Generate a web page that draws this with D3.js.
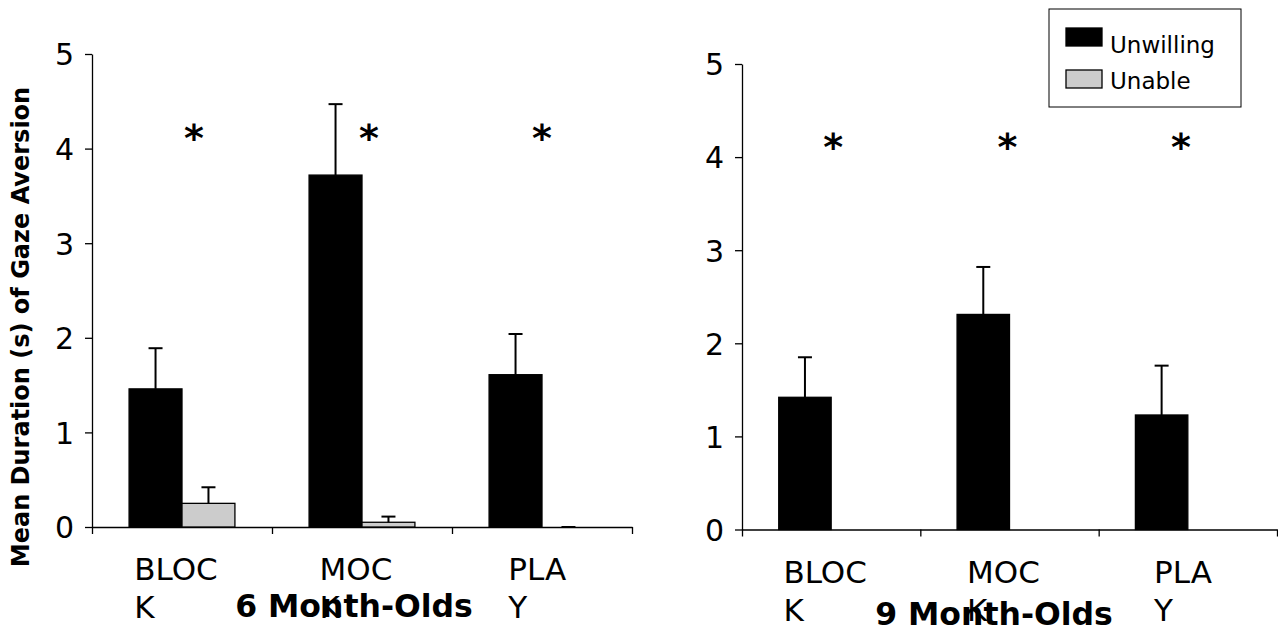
<!DOCTYPE html>
<html>
<head>
<meta charset="utf-8">
<script src="https://cdn.jsdelivr.net/npm/d3@7"></script>
<style>
  body { margin: 0; background: #fff; }
  text { font-family: "DejaVu Sans", Verdana, sans-serif; fill: #000; }
</style>
</head>
<body>
<div id="chart"></div>
<script>
// data
var categories = ["BLOCK", "MOCK", "PLAY"];
var labelLines = [["BLOC", "K"], ["MOC", "K"], ["PLA", "Y"]];
var series = ["Unwilling", "Unable"];
var yTicks = [0, 1, 2, 3, 4, 5];
var panelTitles = ["6 Month-Olds", "9 Month-Olds"];
var sigMarks = ["*", "*", "*"];
var sigLevel = 4.15;

var sixUnwilling = [1.46, 3.72, 1.61];
var sixUnwillingErr = [0.43, 0.75, 0.43];
var sixUnable = [0.25, 0.05, 0];
var sixUnableErr = [0.17, 0.06, 0];

var nineUnwilling = [1.42, 2.31, 1.23];
var nineUnwillingErr = [0.43, 0.51, 0.53];
var nineUnable = [0, 0, 0];
var nineUnableErr = [null, null, null];

var colors = {Unwilling: "#000000", Unable: "#cccccc"};

var width = 1278, height = 635;

var svg = d3.select("#chart").append("svg")
    .attr("width", width)
    .attr("height", height);

// panel frames (layout only)
var panels = [
  {left: 92, right: 632, bottom: 527, top: 54, titleX: 354, titleY: 617, starNudge: [12, 7, 0],
   values: [sixUnwilling, sixUnable], errs: [sixUnwillingErr, sixUnableErr]},
  {left: 742, right: 1277, bottom: 529.5, top: 64, titleX: 994, titleY: 625, starNudge: [2, -2, -7],
   values: [nineUnwilling, nineUnable], errs: [nineUnwillingErr, nineUnableErr]}
];

panels.forEach(function(p, pi) {
  var g = svg.append("g");

  var y = d3.scaleLinear().domain([0, 5]).range([p.bottom, p.top]);
  var x = d3.scaleBand().domain(categories).range([p.left, p.right]);
  var bw = x.bandwidth();
  var xs = d3.scaleBand().domain(series).range([bw * 0.206, bw * 0.794]);

  // y axis
  var yAxis = g.append("g")
      .attr("transform", "translate(" + p.left + ",0)")
      .call(d3.axisLeft(y).tickValues(yTicks).tickFormat(d3.format("d"))
        .tickSize(7).tickSizeOuter(0).tickPadding(11));
  yAxis.selectAll("text").style("font-size", "30px").attr("dy", "0.36em");
  yAxis.selectAll("line, path").attr("stroke", "#000").attr("stroke-width", 1.3);

  // x axis with ticks at the category boundaries
  var xb = d3.scaleLinear().domain([0, categories.length]).range([p.left, p.right]);
  var xAxis = g.append("g")
      .attr("transform", "translate(0," + p.bottom + ")")
      .call(d3.axisBottom(xb).tickValues(d3.range(categories.length + 1)).tickFormat("").tickSize(7).tickSizeOuter(0));
  xAxis.selectAll("line, path").attr("stroke", "#000").attr("stroke-width", 1.3);

  // bars
  series.forEach(function(s, si) {
    var vals = p.values[si], errs = p.errs[si];
    g.append("g").selectAll("rect")
      .data(categories)
      .enter().append("rect")
        .attr("x", function(d) { return x(d) + xs(s); })
        .attr("width", xs.bandwidth())
        .attr("y", function(d, i) { return y(vals[i]); })
        .attr("height", function(d, i) { return y(0) - y(vals[i]); })
        .attr("fill", colors[s])
        .attr("stroke", "#000")
        .attr("stroke-width", 1.3);

    // error bars (upper only)
    var eg = g.append("g").attr("stroke", "#000").attr("stroke-width", 2);
    categories.forEach(function(c, i) {
      if (errs[i] == null) return;
      var cx = x(c) + xs(s) + xs.bandwidth() / 2;
      eg.append("line")
        .attr("x1", cx).attr("x2", cx)
        .attr("y1", y(vals[i])).attr("y2", y(vals[i] + errs[i]));
      eg.append("line")
        .attr("x1", cx - 7).attr("x2", cx + 7)
        .attr("y1", y(vals[i] + errs[i])).attr("y2", y(vals[i] + errs[i]));
    });
  });

  // significance stars
  g.append("g").selectAll("text")
    .data(sigMarks)
    .enter().append("text")
      .attr("x", function(d, i) { return x(categories[i]) + bw / 2 + p.starNudge[i]; })
      .attr("y", y(sigLevel) + 17)
      .attr("text-anchor", "middle")
      .style("font-size", "38px")
      .style("font-weight", "bold")
      .text(function(d) { return d; });

  // category labels (wrapped, lines left aligned)
  categories.forEach(function(c, i) {
    var t = g.append("text")
        .attr("y", p.bottom + 53)
        .style("font-size", "31px");
    labelLines[i].forEach(function(line, li) {
      t.append("tspan")
        .attr("dy", li === 0 ? 0 : 38)
        .text(line);
    });
    var first = t.select("tspan").node().getComputedTextLength();
    var lx = x(c) + bw / 2 - 6 - first / 2;
    t.selectAll("tspan").attr("x", lx);
  });

  // panel title
  g.append("text")
    .attr("x", p.titleX)
    .attr("y", p.titleY)
    .attr("text-anchor", "middle")
    .style("font-size", "31.5px")
    .style("font-weight", "bold")
    .text(panelTitles[pi]);
});

// y axis title
svg.append("text")
  .attr("transform", "translate(29,327) rotate(-90)")
  .attr("text-anchor", "middle")
  .style("font-size", "24px")
  .style("font-weight", "bold")
  .text("Mean Duration (s) of Gaze Aversion");

// legend
var legend = svg.append("g").attr("transform", "translate(1049,9)");
legend.append("rect")
  .attr("width", 192).attr("height", 98)
  .attr("fill", "#fff").attr("stroke", "#000").attr("stroke-width", 1);
series.forEach(function(s, i) {
  var row = legend.append("g").attr("transform", "translate(17," + (19 + i * 42) + ")");
  row.append("rect")
    .attr("width", 36).attr("height", 18)
    .attr("fill", colors[s]).attr("stroke", "#000").attr("stroke-width", 1.3);
  row.append("text")
    .attr("x", 44).attr("y", 25 - i * 6)
    .style("font-size", "23px")
    .text(s);
});
</script>
</body>
</html>
